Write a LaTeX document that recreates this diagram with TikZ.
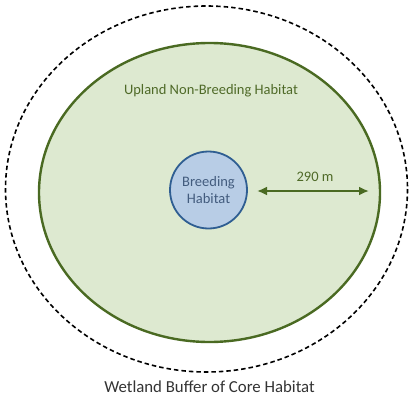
\documentclass[tikz,border=0pt]{standalone}
\usepackage{fontspec}
\setmainfont{Carlito}
\usetikzlibrary{arrows.meta}
\definecolor{uplandfill}{HTML}{DDE9D0}
\definecolor{uplanddraw}{HTML}{4A6A22}
\definecolor{uplandtext}{HTML}{4F6A28}
\definecolor{breedfill}{HTML}{B8CDE6}
\definecolor{breeddraw}{HTML}{2F5E92}
\definecolor{breedtext}{HTML}{435C7E}
\tikzset{
  buffer/.style={draw=black, line width=1.6pt, dash pattern=on 4.5pt off 3pt},
  upland/.style={draw=uplanddraw, fill=uplandfill, line width=2.4pt},
  breed/.style={draw=breeddraw, fill=breedfill, line width=1.8pt},
  lbl/.style={font=\fontsize{14.5}{16}\selectfont, inner sep=0pt},
}
\begin{document}
\begin{tikzpicture}[x=1pt,y=-1pt]
\useasboundingbox (0,0) rectangle (410,399);
\fill[white] (0,0) rectangle (410,399);
\draw[buffer] (206.5,189) ellipse [x radius=201, y radius=183];
\draw[upland] (209.5,192.5) ellipse [x radius=170.5, y radius=149.5];
\node[breed, circle, minimum size=77pt, inner sep=0pt] (breed) at (208.5,190) {};
\node[lbl, text=breedtext, align=center] (breedlbl) at (208.5,190) {Breeding\\[1pt]Habitat};
\node[lbl, text=uplandtext] (upland) at (211,91) {Upland Non-Breeding Habitat};
\coordinate (aL) at (257,191);
\coordinate (aR) at (369,191);
\draw[uplanddraw, line width=2pt, {Latex[length=10pt,width=9pt]}-{Latex[length=10pt,width=9pt]}] (aL) -- (aR);
\node[lbl, text=uplandtext] (dist) at (315,177) {290 m};
\node[lbl, font=\fontsize{16.8}{18}\selectfont, text=black!80] (buf) at (209.5,387) {Wetland Buffer of Core Habitat};
\end{tikzpicture}
\end{document}
